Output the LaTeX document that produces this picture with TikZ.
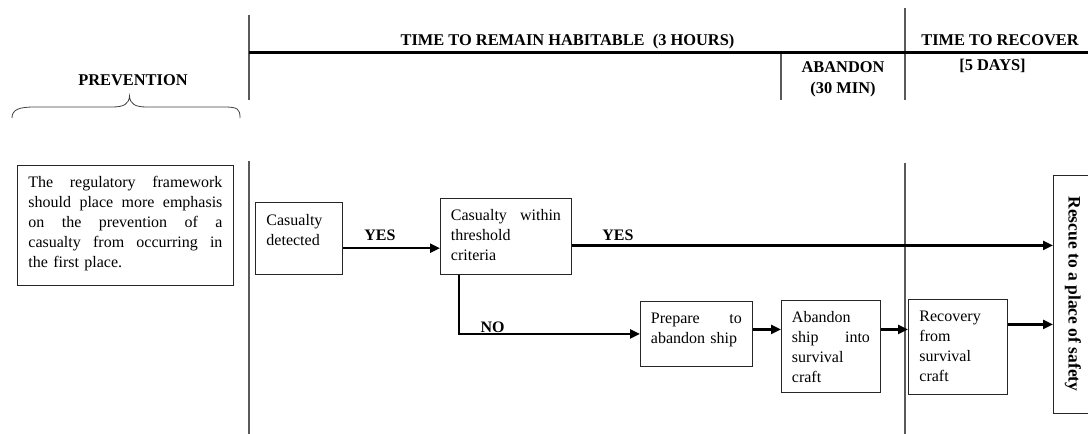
\documentclass[tikz,border=0pt]{standalone}
\usepackage{fontspec}
\setmainfont{Liberation Serif}
\usetikzlibrary{arrows.meta}
\begin{document}
\begin{tikzpicture}[x=1pt,y=-1pt,
  every node/.style={inner sep=0pt, font=\fontsize{16}{20}\selectfont},
  hdr/.style={font=\fontsize{16.4}{20}\selectfont\bfseries, anchor=base},
  lbl/.style={font=\fontsize{16}{20}\selectfont\bfseries, anchor=base},
  stepbox/.style={draw=black!85, line width=0.9pt, anchor=north west, align=left,
                  inner xsep=10.5pt, inner ysep=0pt},
  rule/.style={draw=black!65, line width=1.2pt},
  flow/.style={line width=2.4pt, -{Triangle[length=10pt,width=9pt]}},
]
\useasboundingbox (0,0) rectangle (1088,434);
\clip (0,0) rectangle (1088,434);

% phase separators and time axis
\draw[rule] (249,15) -- (249,100);
\draw[rule] (249,161) -- (249,434);
\draw[rule] (781,52) -- (781,100);
\draw[rule] (905,8) -- (905,100);
\draw[rule] (905,163) -- (905,434);
\draw[line width=3pt] (249,52) -- (1088,52);

% phase headings
\node[hdr] (habit) at (567.5,45) {TIME TO REMAIN HABITABLE\ \ (3 HOURS)};
\node[hdr] (recover) at (1000,45) {TIME TO RECOVER};
\node[hdr] (abandon1) at (843,72.7) {ABANDON};
\node[hdr] (abandon2) at (843,93.5) {(30 MIN)};
\node[hdr] (days) at (992.5,70.5) {[5 DAYS]};
\node[hdr] (prevtitle) at (133,85) {PREVENTION};

% brace under the prevention heading
\draw[black!75, line width=0.8pt]
  (12,118) .. controls (12,109) and (20,107) .. (35,107) -- (112,107)
  .. controls (124,107) and (129,104) .. (129.5,96)
  .. controls (130,104) and (135,107) .. (147,107) -- (224,107)
  .. controls (238,107) and (240,109) .. (240,118);

% boxes
\node[stepbox, text width=194pt, inner xsep=11pt, text height=22pt, text depth=98pt] (prev) at (17,165)
  {The\hfill regulatory\hfill framework\\
   should\hfill place\hfill more\hfill emphasis\\
   on\hfill the\hfill prevention\hfill of\hfill a\\
   casualty\hfill from\hfill occurring\hfill in\\
   the first place.};
\node[stepbox, text width=65pt, inner xsep=11pt, text height=23pt, text depth=49pt] (det) at (255,202)
  {Casualty\\detected};
\node[stepbox, text width=110pt, text height=22pt, text depth=54pt] (thr) at (440,198)
  {Casualty\hfill within\\threshold\\criteria};
\node[stepbox, text width=91pt, text height=22pt, text depth=43pt] (prep) at (640,301)
  {Prepare\hfill to\\abandon ship};
\node[stepbox, text width=78pt, text height=22pt, text depth=70pt] (aban) at (781,300)
  {Abandon\\ship\hfill into\\survival\\craft};
\node[stepbox, text width=77pt, inner xsep=11pt, text height=22pt, text depth=73pt] (rec) at (908,299)
  {Recovery\\from\\survival\\craft};
\node[draw=black!85, line width=0.9pt, anchor=north west, minimum width=60pt, minimum height=238pt]
  (rescue) at (1053,175) {};
\node[font=\fontsize{17.5}{20}\selectfont\bfseries, rotate=-90] (rescuetxt) at (1073,294)
  {Rescue to a place of safety};

% connectors
\coordinate (a1) at ([yshift=-9.7pt]det.east);
\draw[flow] (a1) -- (a1 -| thr.west);
\coordinate (a2) at ([yshift=-9pt]thr.east);
\draw[flow] (a2) -- (a2 -| rescue.west);
\draw[flow] ([xshift=19pt]thr.south west) |- (prep.west);
\coordinate (a3) at ([yshift=4.5pt]prep.east);
\draw[flow] (a3) -- (a3 -| aban.west);
\coordinate (a4) at (a3 -| aban.east);
\draw[flow] (a4) -- (a4 -| rec.west);
\coordinate (a5) at ([yshift=22.5pt]rec.east);
\draw[flow] (a5) -- (a5 -| rescue.west);

% branch labels
\node[lbl] (yes1) at (380,240) {YES};
\node[lbl] (yes2) at (618,240) {YES};
\node[lbl] (no) at (492.5,332) {NO};
\end{tikzpicture}
\end{document}
